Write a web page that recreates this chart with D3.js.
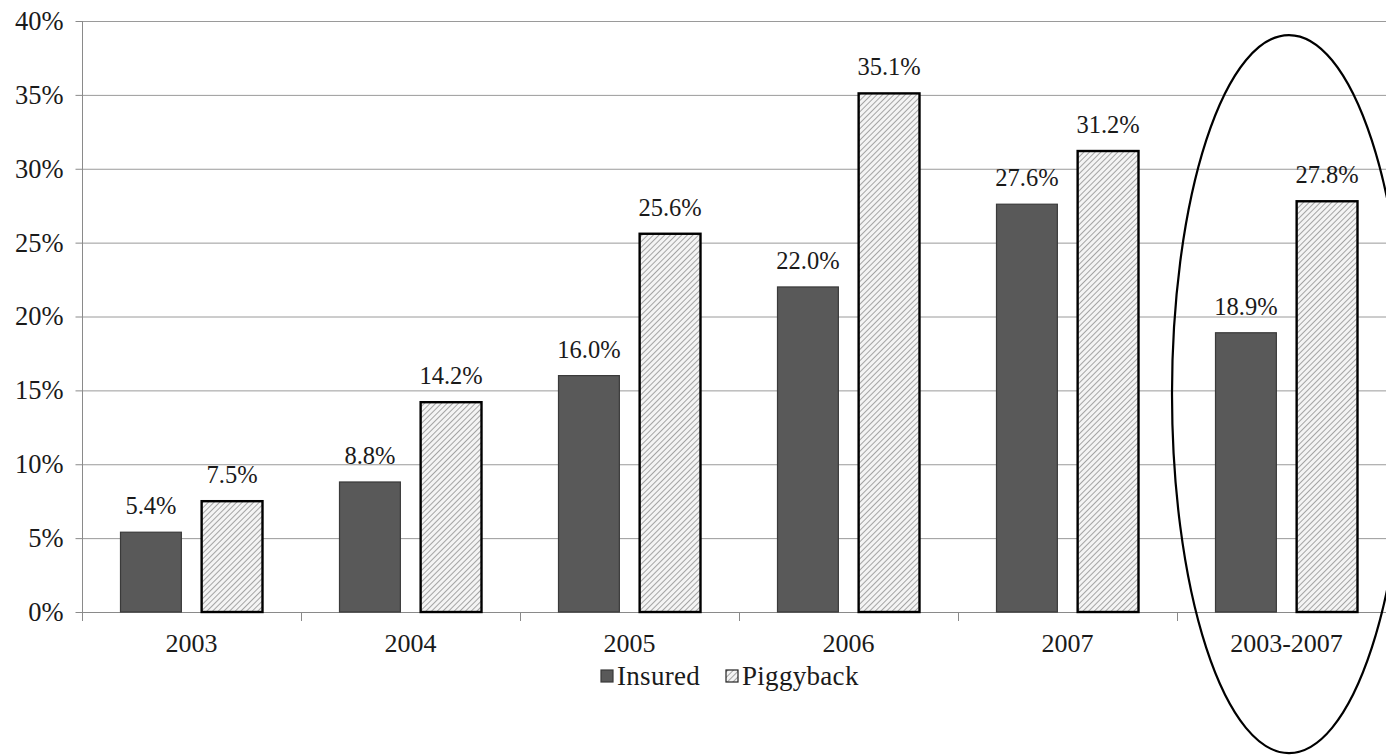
<!DOCTYPE html>
<html>
<head>
<meta charset="utf-8">
<script src="https://cdn.jsdelivr.net/npm/d3@7"></script>
<style>
  html, body { margin: 0; padding: 0; background: #fff; }
  svg { display: block; }
  text { font-family: "Liberation Serif", "Times New Roman", serif; fill: #1a1a1a; }
</style>
</head>
<body>
<svg id="chart" width="1386" height="756"></svg>
<script>
// ---- data ----
const categories = ["2003", "2004", "2005", "2006", "2007", "2003-2007"];
const seriesNames = ["Insured", "Piggyback"];
const insured   = [5.4, 8.8, 16.0, 22.0, 27.6, 18.9];
const piggyback = [7.5, 14.2, 25.6, 35.1, 31.2, 27.8];
const yTicks = [0, 5, 10, 15, 20, 25, 30, 35, 40];

(function () {
const svg = d3.select("#chart");
const pLeft = 82, pRight = 1396, pTop = 21, pBottom = 612;

const x0 = d3.scaleBand().domain(categories).range([pLeft, pRight]).padding(0);
const inner = 38.5;
const x1 = d3.scaleBand().domain(seriesNames)
  .range([inner, x0.bandwidth() - inner]).paddingInner(0.25).paddingOuter(0);
const y = d3.scaleLinear().domain([0, 40]).range([pBottom, pTop]);

// hatch pattern
const defs = svg.append("defs");
const pat = defs.append("pattern").attr("id", "hatch")
  .attr("patternUnits", "userSpaceOnUse").attr("width", 4).attr("height", 4)
  .attr("patternTransform", "rotate(45)");
pat.append("rect").attr("width", 4).attr("height", 4).attr("fill", "#f4f4f4");
pat.append("line").attr("x1", 0).attr("y1", 0).attr("x2", 0).attr("y2", 4)
  .attr("stroke", "#8a8a8a").attr("stroke-width", 1.5);

// gridlines
svg.append("g").selectAll("line").data(yTicks.filter(d => d > 0)).join("line")
  .attr("x1", pLeft).attr("x2", pRight)
  .attr("y1", d => y(d) + 0.5).attr("y2", d => y(d) + 0.5)
  .attr("stroke", "#9a9a9a").attr("stroke-width", 1);

// y axis
const yAxis = svg.append("g").attr("transform", `translate(${pLeft + 0.5},0)`)
  .call(d3.axisLeft(y).tickValues(yTicks).tickSize(7).tickPadding(12).tickFormat(d => d + "%"));
yAxis.select(".domain").attr("stroke", "#8a8a8a").attr("d", `M0,${pTop}V${pBottom + 9}`);
yAxis.selectAll(".tick line").attr("stroke", "#8a8a8a");
yAxis.selectAll(".tick text").style("font-size", "26.5px").attr("fill", "#1a1a1a")
  .style("font-family", '"Liberation Serif", "Times New Roman", serif');

// x axis baseline + ticks at band boundaries
svg.append("line").attr("x1", pLeft).attr("x2", pRight)
  .attr("y1", pBottom + 0.5).attr("y2", pBottom + 0.5).attr("stroke", "#8a8a8a");
svg.append("g").selectAll("line").data(categories.slice(1)).join("line")
  .attr("x1", d => x0(d) + 0.5).attr("x2", d => x0(d) + 0.5)
  .attr("y1", pBottom).attr("y2", pBottom + 9).attr("stroke", "#8a8a8a");
svg.append("g").selectAll("text").data(categories).join("text")
  .attr("x", d => x0(d) + x0.bandwidth() / 2).attr("y", pBottom + 40)
  .attr("text-anchor", "middle").style("font-size", "26px").text(d => d);

// bars
const rows = categories.map((c, i) => ({ cat: c, vals: [
  { s: "Insured", v: insured[i] }, { s: "Piggyback", v: piggyback[i] }] }));

const groups = svg.append("g").selectAll("g").data(rows).join("g")
  .attr("transform", d => `translate(${x0(d.cat)},0)`);

groups.selectAll("rect").data(d => d.vals).join("rect")
  .attr("x", d => x1(d.s)).attr("width", x1.bandwidth())
  .attr("y", d => y(d.v)).attr("height", d => y(0) - y(d.v))
  .attr("fill", d => d.s === "Insured" ? "#595959" : "url(#hatch)")
  .attr("stroke", d => d.s === "Insured" ? "#3a3a3a" : "#000")
  .attr("stroke-width", d => d.s === "Insured" ? 1.2 : 2.4);

groups.selectAll("text").data(d => d.vals).join("text")
  .attr("x", d => x1(d.s) + x1.bandwidth() / 2).attr("y", d => y(d.v) - 18)
  .attr("text-anchor", "middle").style("font-size", "24.5px")
  .text(d => d.v.toFixed(1) + "%");

// legend
const leg = svg.append("g");
const legendItems = [{ s: "Insured", x: 601 }, { s: "Piggyback", x: 726 }];
leg.selectAll("rect").data(legendItems).join("rect")
  .attr("x", d => d.x).attr("y", 670).attr("width", 12).attr("height", 12)
  .attr("fill", d => d.s === "Insured" ? "#595959" : "url(#hatch)")
  .attr("stroke", d => d.s === "Insured" ? "#3a3a3a" : "#222").attr("stroke-width", 1.2);
leg.selectAll("text").data(legendItems).join("text")
  .attr("x", d => d.x + 16).attr("y", 685).style("font-size", "27px")
  .style("letter-spacing", "0.3px").text(d => d.s);

// annotation ellipse around the last category
const last = categories[categories.length - 1];
svg.append("ellipse")
  .attr("cx", x0(last) + x0.bandwidth() / 2 + 2.5)
  .attr("cy", y(14.75))
  .attr("rx", 117)
  .attr("ry", y(0) - y(24.3))
  .attr("fill", "none").attr("stroke", "#000").attr("stroke-width", 2.2);
})();
</script>
</body>
</html>
